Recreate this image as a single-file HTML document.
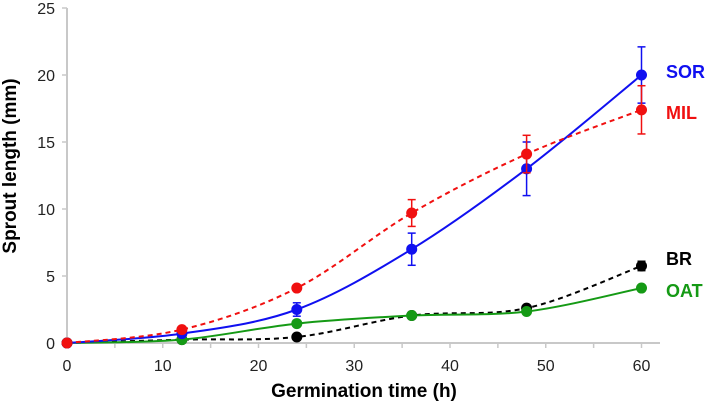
<!DOCTYPE html>
<html><head><meta charset="utf-8"><style>
body{margin:0;background:#fff}
svg text{font-family:"Liberation Sans",Arial,sans-serif}
</style></head><body>
<svg id="c" width="709" height="404"></svg>
<script>
const times=[0,12,24,36,48,60];
const sor=[0,0.7,2.5,7,13,20];
const sorErr=[0,0.2,0.5,1.2,2,2.1];
const mil=[0,1.0,4.1,9.7,14.1,17.4];
const milErr=[0,0.15,0.2,1.0,1.4,1.8];
const br=[0,0.25,0.45,2.05,2.6,5.75];
const brErr=[0,0.05,0.1,0.1,0.15,0.35];
const oat=[0,0.25,1.45,2.05,2.35,4.1];
const oatErr=[0,0.05,0.1,0.1,0.1,0.1];
const xTicks=[0,10,20,30,40,50,60];
const yTicks=[0,5,10,15,20,25];
const NS="http://www.w3.org/2000/svg";
const svg=document.getElementById('c');
const X=v=>67+v*(641.5-67)/60;
const Y=v=>343-v*(343-8)/25;
function mk(t,a,p){const e=document.createElementNS(NS,t);for(const k in a)e.setAttribute(k,a[k]);(p||svg).appendChild(e);return e;}
let ax=mk('line',{x1:X(0),y1:Y(0),x2:660,y2:Y(0),stroke:'#c8c8c8','stroke-width':2});


let ay=mk('line',{x1:X(0),y1:Y(0),x2:X(0),y2:Y(25),stroke:'#c8c8c8','stroke-width':2});


for(let v=0;v<=60;v+=5){mk('line',{x1:X(v),y1:Y(0),x2:X(v),y2:Y(0)+5,stroke:'#c8c8c8','stroke-width':1.5});}
for(let v=0;v<=25;v+=5){mk('line',{x1:X(0)-5,y1:Y(v),x2:X(0),y2:Y(v),stroke:'#c8c8c8','stroke-width':1.5});}
xTicks.forEach(v=>{const t=mk('text',{x:X(v),y:371,'text-anchor':'middle','font-size':16,fill:'#222'});t.textContent=v;

});
yTicks.forEach(v=>{const t=mk('text',{x:X(0)-12,y:Y(v)+6,'text-anchor':'end','font-size':16,fill:'#222'});t.textContent=v;

});
let xt=mk('text',{x:364,y:397,'text-anchor':'middle','font-size':19,'font-weight':'bold',fill:'#000'});xt.textContent='Germination time (h)';


let yt=mk('text',{x:0,y:0,transform:'translate(16,166) rotate(-90)','text-anchor':'middle','font-size':19,'font-weight':'bold',fill:'#000'});yt.textContent='Sprout length (mm)';


function smooth(pts){let d=`M${pts[0][0]},${pts[0][1]}`;for(let i=0;i<pts.length-1;i++){const p0=pts[i-1]||pts[i],p1=pts[i],p2=pts[i+1],p3=pts[i+2]||p2;
const c1=[p1[0]+(p2[0]-p0[0])/6,p1[1]+(p2[1]-p0[1])/6],c2=[p2[0]-(p3[0]-p1[0])/6,p2[1]-(p3[1]-p1[1])/6];d+=` C${c1[0]},${c1[1]} ${c2[0]},${c2[1]} ${p2[0]},${p2[1]}`;}return d;}
function series(name,vals,errs,color,dash,label,ly){
 const g=mk('g',{});
 
 
 const pts=times.map((t,i)=>[X(t),Y(vals[i])]);
 const p=mk('path',{d:smooth(pts),fill:'none',stroke:color,'stroke-width':2,'stroke-dasharray':dash||'none'},g);
 
 
 times.forEach((t,i)=>{
  if(errs[i]>0.3){const x=X(t),y1=Y(vals[i]+errs[i]),y2=Y(vals[i]-errs[i]);
   mk('line',{x1:x,y1:y1,x2:x,y2:y2,stroke:color,'stroke-width':1.5},g);
   mk('line',{x1:x-4,y1:y1,x2:x+4,y2:y1,stroke:color,'stroke-width':1.5},g);
   mk('line',{x1:x-4,y1:y2,x2:x+4,y2:y2,stroke:color,'stroke-width':1.5},g);}
  const c=mk('circle',{cx:X(t),cy:Y(vals[i]),r:5.5,fill:color},g);
  
  
 });
 const l=mk('text',{x:666,y:ly,'font-size':18,'font-weight':'bold',fill:color});l.textContent=label;
 
 
}
series('br',br,brErr,'#000','5,4','BR',265);
series('oat',oat,oatErr,'#159a15',null,'OAT',297);
series('sor',sor,sorErr,'#1010f0',null,'SOR',78);
series('mil',mil,milErr,'#f01010','5,4','MIL',119);
</script>
</body></html>
